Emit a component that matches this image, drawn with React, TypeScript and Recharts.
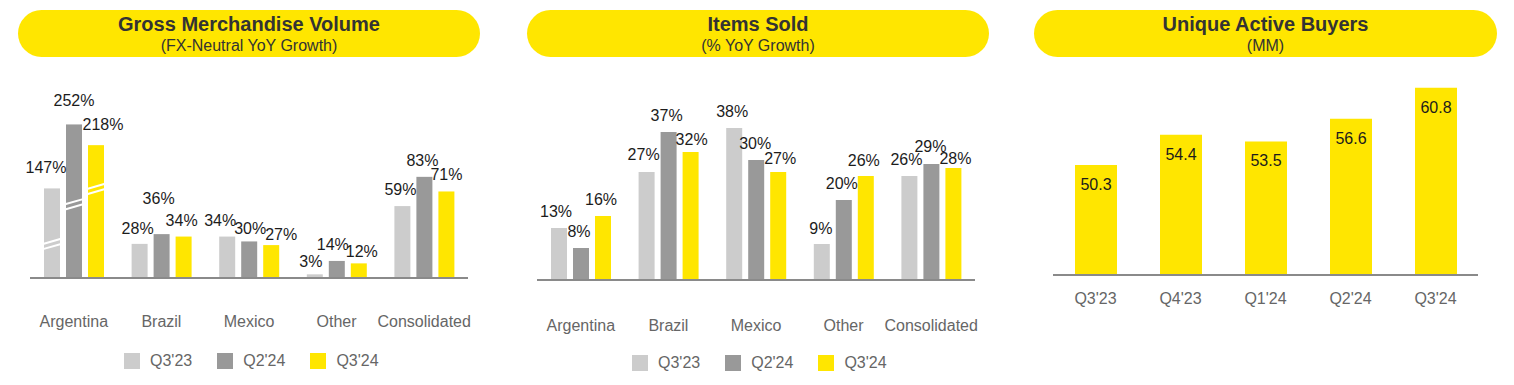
import { Bar, BarChart, LabelList, XAxis, YAxis } from 'recharts';

const regions = ['Argentina', 'Brazil', 'Mexico', 'Other', 'Consolidated'];
const seriesNames = ["Q3'23", "Q2'24", "Q3'24"];

// GMV, FX-neutral YoY growth (%)
const gmvQ323 = [147, 28, 34, 3, 59];
const gmvQ224 = [252, 36, 30, 14, 83];
const gmvQ324 = [218, 34, 27, 12, 71];
// Argentina is drawn on a broken (half) scale, like the original slide
const gmvBreakScale = [0.5, 1, 1, 1, 1];

// Items sold, YoY growth (%)
const itemsQ323 = [13, 27, 38, 9, 26];
const itemsQ224 = [8, 37, 30, 20, 29];
const itemsQ324 = [16, 32, 27, 26, 28];

// Unique active buyers (MM)
const buyerQuarters = ["Q3'23", "Q4'23", "Q1'24", "Q2'24", "Q3'24"];
const buyersMM = [50.3, 54.4, 53.5, 56.6, 60.8];

const COLORS = ['#cccccc', '#999999', '#ffe600'];
const FONT = '"Liberation Sans", Arial, sans-serif';
const AXIS = '#8a8a8a';
const TICK = { fill: '#666666', fontSize: 16, fontFamily: FONT };

// label nudges [dx, dy] per series / category (hand placed on the slide)
const gmvNudge = [
  [[-6, -4], [-2, 1], [-7, 0], [-4, 4], [-2, 0]],
  [[0, -7], [-3, -19], [1, 4], [-4, 0], [-2, 0]],
  [[7, -4], [-2, 0], [10, 6], [3, 5], [0, 0]],
];
const itemsNudge = [
  [[-3, 0], [-3, -1], [-2, 0], [-1, 1], [-3, 0]],
  [[-2, 0], [-2, 0], [-1, 0], [-2, 0], [-1, -1]],
  [[-2, 0], [1, 4], [2, 3], [-2, 1], [2, 7]],
];
// where the break marks sit on the broken bars (fraction of bar height from bottom)
const breakAt = [0.38, 0.48, 0.67];

const gmvData = regions.map((region, i) => ({
  region,
  s0: gmvQ323[i],
  s1: gmvQ224[i],
  s2: gmvQ324[i],
  scale: gmvBreakScale[i],
}));
const itemsData = regions.map((region, i) => ({
  region,
  s0: itemsQ323[i],
  s1: itemsQ224[i],
  s2: itemsQ324[i],
}));
const buyersData = buyerQuarters.map((q, i) => ({ q, v: buyersMM[i] }));

function pctLabel(nudge: number[][]) {
  return (p: any) => {
    const [dx, dy] = nudge[p.index] ?? [0, 0];
    return (
      <text
        x={p.x + p.width / 2 + dx}
        y={p.y - 11 + dy}
        textAnchor="middle"
        fontSize={16}
        fontFamily={FONT}
        fill="#1c1c1c"
      >
        {`${p.value}%`}
      </text>
    );
  };
}

function brokenBar(series: number) {
  return (p: any) => {
    const { x, y, width, height, fill, payload } = p;
    const broken = payload && payload.scale < 1;
    const yc = y + height * (1 - breakAt[series]);
    return (
      <g>
        <rect x={x} y={y} width={width} height={height} fill={fill} />
        {broken &&
          [-2.6, 2.6].map((o) => (
            <line
              key={o}
              x1={x - 1}
              y1={yc + o + 2.6}
              x2={x + width + 1}
              y2={yc + o - 2.6}
              stroke="#ffffff"
              strokeWidth={2}
            />
          ))}
      </g>
    );
  };
}

function Header({ left, width, title, sub }: { left: number; width: number; title: string; sub: string }) {
  return (
    <div
      style={{
        position: 'absolute',
        left,
        top: 10,
        width,
        height: 47,
        borderRadius: 24,
        background: '#ffe600',
        color: '#333333',
        textAlign: 'center',
      }}
    >
      <div style={{ position: 'absolute', top: 3, width: '100%', fontSize: 20, lineHeight: '22px', fontWeight: 700 }}>
        {title}
      </div>
      <div style={{ position: 'absolute', top: 27, width: '100%', fontSize: 16, lineHeight: '18px' }}>{sub}</div>
    </div>
  );
}

function Legend({ left, top }: { left: number; top: number }) {
  return (
    <div style={{ position: 'absolute', left, top, display: 'flex', alignItems: 'center' }}>
      {seriesNames.map((name, i) => (
        <div key={name} style={{ display: 'flex', alignItems: 'center', marginRight: 25 }}>
          <span style={{ width: 16, height: 16, background: COLORS[i], marginRight: 10 }} />
          <span style={{ fontSize: 16, color: '#666666', lineHeight: '18px' }}>{name}</span>
        </div>
      ))}
    </div>
  );
}

function GmvChart() {
  return (
    <BarChart
      width={500}
      height={385}
      data={gmvData}
      margin={{ top: 83, right: 32, bottom: 47, left: 30 }}
      barSize={16}
      barGap={6}
    >
      <XAxis
        dataKey="region"
        interval={0}
        tickLine={false}
        tickMargin={32}
        height={60}
        tick={TICK}
        axisLine={{ stroke: AXIS, strokeWidth: 2 }}
      />
      <YAxis hide domain={[0, 160]} />
      {['s0', 's1', 's2'].map((k, si) => (
        <Bar
          key={k}
          dataKey={(d: any) => d[k] * d.scale}
          fill={COLORS[si]}
          shape={brokenBar(si)}
          isAnimationActive={false}
        >
          <LabelList dataKey={k} content={pctLabel(gmvNudge[si])} />
        </Bar>
      ))}
    </BarChart>
  );
}

function ItemsChart() {
  return (
    <BarChart
      width={500}
      height={385}
      data={itemsData}
      margin={{ top: 80, right: 25, bottom: 45, left: 37 }}
      barSize={16}
      barGap={6}
    >
      <XAxis
        dataKey="region"
        interval={0}
        tickLine={false}
        tickMargin={34}
        height={60}
        tick={TICK}
        axisLine={{ stroke: AXIS, strokeWidth: 2 }}
      />
      <YAxis hide domain={[0, 50]} />
      {['s0', 's1', 's2'].map((k, si) => (
        <Bar key={k} dataKey={k} fill={COLORS[si]} isAnimationActive={false}>
          <LabelList dataKey={k} content={pctLabel(itemsNudge[si])} />
        </Bar>
      ))}
    </BarChart>
  );
}

function BuyersChart() {
  return (
    <BarChart
      width={504}
      height={385}
      data={buyersData}
      margin={{ top: 57, right: 36, bottom: 50, left: 43 }}
      barSize={42}
    >
      <XAxis
        dataKey="q"
        interval={0}
        tickLine={false}
        tickMargin={12}
        height={60}
        tick={TICK}
        axisLine={{ stroke: AXIS, strokeWidth: 2 }}
      />
      <YAxis hide domain={[35.3, 65]} />
      <Bar dataKey="v" fill={COLORS[2]} isAnimationActive={false}>
        <LabelList
          dataKey="v"
          content={(p: any) => (
            <text
              x={p.x + p.width / 2}
              y={p.y + 25}
              textAnchor="middle"
              fontSize={16}
              fontFamily={FONT}
              fill="#1c1c1c"
            >
              {Number(p.value).toFixed(1)}
            </text>
          )}
        />
      </Bar>
    </BarChart>
  );
}

export default function App() {
  return (
    <div style={{ position: 'relative', width: 1514, height: 385, fontFamily: FONT, background: '#ffffff', overflow: 'hidden' }}>
      <style>{'body{margin:0}'}</style>
      <div style={{ position: 'absolute', left: 0, top: 0 }}>
        <GmvChart />
      </div>
      <div style={{ position: 'absolute', left: 500, top: 0 }}>
        <ItemsChart />
      </div>
      <div style={{ position: 'absolute', left: 1010, top: 0 }}>
        <BuyersChart />
      </div>
      <Header left={18} width={462} title="Gross Merchandise Volume" sub="(FX-Neutral YoY Growth)" />
      <Header left={527} width={462} title="Items Sold" sub="(% YoY Growth)" />
      <Header left={1034} width={463} title="Unique Active Buyers" sub="(MM)" />
      <Legend left={124} top={352} />
      <Legend left={632} top={354} />
    </div>
  );
}
